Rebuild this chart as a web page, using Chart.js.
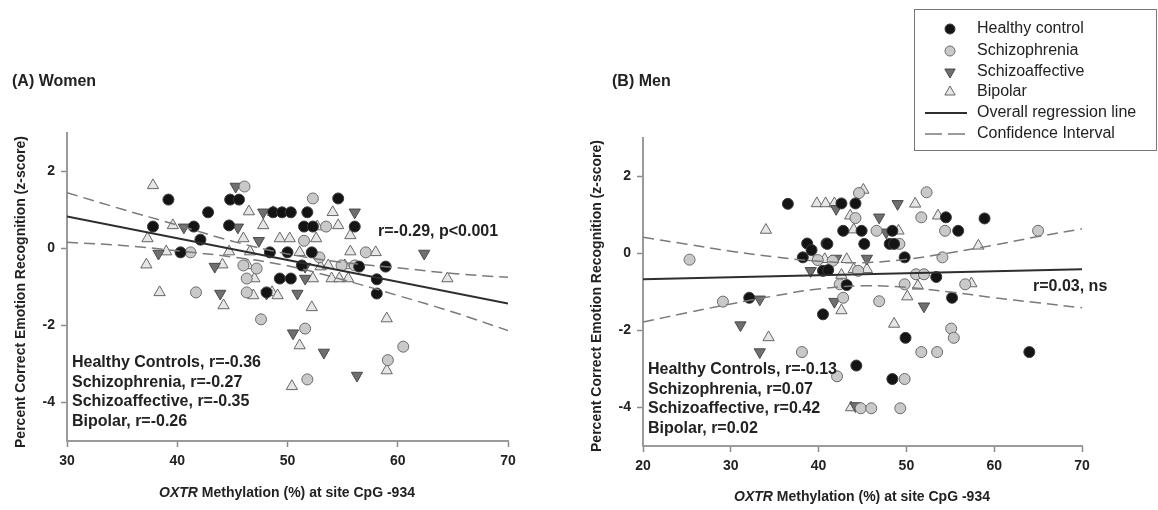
<!DOCTYPE html>
<html>
<head>
<meta charset="utf-8">
<script src="https://cdn.jsdelivr.net/npm/chart.js@4"></script>
<style>
  body { margin: 0; background: #fff; }
  #wrap { position: relative; width: 1158px; height: 510px; }
  canvas { position: absolute; top: 0; }
  #women { left: 0; }
  #men { left: 580px; }
</style>
</head>
<body>
<div id="wrap">
  <canvas id="women" width="580" height="510"></canvas>
  <canvas id="men" width="578" height="510"></canvas>
</div>
<script>
// tick values
const womenXTicks = [30, 40, 50, 60, 70];
const menXTicks = [20, 30, 40, 50, 60, 70];
const yTicks = [-4, -2, 0, 2];

// (A) Women, [methylation %, z-score]
const womenHC = [[39.2,1.27],[42.8,0.94],[37.8,0.57],[41.5,0.57],[44.7,0.6],[42.1,0.23],[40.3,-0.1],[44.8,1.27],[45.6,1.27],[48.7,0.94],[49.5,0.94],[50.3,0.94],[51.8,0.94],[54.6,1.3],[51.5,0.57],[52.3,0.57],[56.1,0.57],[48.4,-0.1],[50.0,-0.1],[52.2,-0.1],[51.3,-0.44],[49.3,-0.78],[50.3,-0.78],[48.1,-1.14],[56.5,-0.47],[58.9,-0.47],[58.1,-0.8],[58.1,-1.17]];
const womenSZ = [[46.1,1.61],[52.3,1.3],[41.2,-0.1],[46.0,-0.44],[47.2,-0.52],[46.3,-0.78],[41.7,-1.14],[46.3,-1.14],[47.6,-1.84],[53.5,0.57],[51.5,0.2],[52.9,-0.23],[54.9,-0.44],[56.1,-0.44],[57.1,-0.1],[51.6,-2.08],[60.5,-2.55],[59.1,-2.9],[51.8,-3.4]];
const womenSZA = [[45.3,1.61],[40.6,0.55],[45.5,0.55],[47.4,0.2],[38.3,-0.13],[43.4,-0.47],[43.9,-1.17],[48.1,-1.17],[50.9,-1.17],[47.8,0.94],[56.1,0.94],[62.4,-0.13],[51.6,-0.47],[51.6,-0.78],[50.5,-2.2],[53.3,-2.7],[56.3,-3.3]];
const womenBP = [[37.8,1.64],[46.5,0.96],[39.6,0.6],[37.3,0.26],[46.0,0.26],[39.0,-0.08],[44.7,-0.08],[46.6,-0.08],[37.2,-0.42],[44.1,-0.42],[46.4,-0.44],[47.0,-0.78],[38.4,-1.14],[44.2,-1.48],[46.9,-1.22],[48.6,-1.14],[49.1,-1.22],[48.7,0.94],[47.8,0.6],[49.3,0.26],[50.2,0.26],[52.6,0.26],[55.7,0.34],[55.7,-0.08],[52.7,0.57],[54.1,0.94],[54.6,0.6],[51.1,-0.1],[53.0,-0.47],[53.7,-0.44],[55.2,-0.44],[54.0,-0.78],[54.7,-0.78],[55.5,-0.78],[52.3,-0.78],[58.0,-0.1],[64.5,-0.78],[52.2,-1.53],[59.0,-1.82],[51.1,-2.52],[59.0,-3.17],[50.4,-3.58]];
const womenFit = [[30,0.83],[70,-1.43]];
const womenCiX = [30, 35, 40, 45, 50, 55, 60, 65, 70];
const womenCiUpper = [1.45, 1.02, 0.61, 0.19, -0.14, -0.36, -0.50, -0.65, -0.75];
const womenCiLower = [0.16, 0.08, -0.06, -0.22, -0.45, -0.81, -1.22, -1.65, -2.13];

// (B) Men
const menHC = [[36.5,1.29],[38.7,0.26],[40.9,0.26],[39.2,0.09],[38.2,-0.1],[40.5,-0.45],[40.5,-1.58],[42.6,1.3],[44.2,1.3],[54.5,0.94],[58.9,0.91],[42.8,0.59],[44.9,0.59],[48.4,0.59],[55.9,0.59],[41.0,0.25],[45.2,0.25],[48.1,0.25],[48.6,0.25],[49.8,-0.1],[41.1,-0.43],[53.4,-0.61],[43.2,-0.82],[55.2,-1.15],[32.1,-1.15],[49.9,-2.19],[64.0,-2.56],[44.3,-2.91],[48.4,-3.26]];
const menSZ = [[25.3,-0.16],[29.1,-1.25],[38.1,-2.56],[39.9,-0.17],[44.6,1.57],[52.3,1.59],[44.2,0.92],[51.7,0.94],[46.6,0.59],[49.2,0.25],[54.4,0.59],[65.0,0.59],[41.6,-0.19],[54.1,-0.1],[44.5,-0.45],[51.1,-0.54],[52.0,-0.54],[42.4,-0.8],[49.8,-0.8],[56.7,-0.8],[42.8,-1.15],[46.9,-1.24],[55.1,-1.95],[55.4,-2.19],[51.7,-2.56],[53.5,-2.56],[42.1,-3.19],[49.8,-3.26],[44.8,-4.02],[46.0,-4.02],[49.3,-4.02]];
const menSZA = [[33.3,-1.19],[31.1,-1.86],[33.3,-2.56],[39.1,-0.45],[42.0,1.16],[49.0,1.29],[46.9,0.94],[47.7,0.55],[42.0,-0.13],[45.5,-0.13],[52.0,-1.37],[41.8,-1.25],[44.2,-3.96]];
const menBP = [[34.3,-2.18],[34.0,0.61],[39.8,1.3],[40.8,1.3],[41.8,1.3],[45.1,1.65],[51.0,1.29],[43.6,0.98],[53.6,0.98],[44.0,0.62],[49.1,0.59],[58.2,0.2],[39.0,-0.1],[40.7,-0.15],[43.2,-0.15],[44.0,-0.41],[45.5,-0.41],[42.6,-0.56],[51.3,-0.84],[57.4,-0.78],[50.1,-1.12],[42.6,-1.48],[48.6,-1.83],[43.7,-4.0]];
const menFit = [[20,-0.67],[70,-0.41]];
const menCiX = [20, 25, 30, 35, 40, 45, 50, 55, 60, 65, 70];
const menCiUpper = [0.42, 0.24, 0.06, -0.09, -0.20, -0.24, -0.15, 0.02, 0.22, 0.44, 0.64];
const menCiLower = [-1.78, -1.54, -1.31, -1.10, -0.92, -0.84, -0.88, -1.0, -1.15, -1.28, -1.41];

const womenStats = ["Healthy Controls, r=-0.36", "Schizophrenia, r=-0.27", "Schizoaffective, r=-0.35", "Bipolar, r=-0.26"];
const menStats = ["Healthy Controls, r=-0.13", "Schizophrenia, r=0.07", "Schizoaffective, r=0.42", "Bipolar, r=0.02"];

const FONT = "'Liberation Sans', Arial, sans-serif";
const groups = {
    hc: { pointStyle: "circle", radius: 5.5, rotation: 0, bg: "#141414", border: "#3a3a3a" },
    sz: { pointStyle: "circle", radius: 5.5, rotation: 0, bg: "#c9c9c9", border: "#6a6a6a" },
    sza: { pointStyle: "triangle", radius: 6.5, rotation: 180, bg: "#6f6f6f", border: "#4a4a4a" },
    bp: { pointStyle: "triangle", radius: 6.5, rotation: 0, bg: "#e6e6e6", border: "#666" }
};

const toXY = (arr) => arr.map(p => ({ x: p[0], y: p[1] }));
const zip = (xs, ys) => xs.map((x, i) => ({ x: x, y: ys[i] }));

function pointSet(pts, g, order) {
    let s = groups[g];
    return {
        data: toXY(pts), showLine: false, order: order,
        pointStyle: s.pointStyle, pointRadius: s.radius, pointRotation: s.rotation,
        pointBackgroundColor: s.bg, pointBorderColor: s.border, pointBorderWidth: 1
    };
}
function lineSet(pts, dashed, order) {
    return {
        type: "line", data: pts, order: order, pointRadius: 0, fill: false,
        borderColor: dashed ? "#7a7a7a" : "#2e2e2e", borderWidth: dashed ? 1.5 : 2,
        borderDash: dashed ? [11, 6] : [], tension: 0.4
    };
}

function drawLegend(ctx) {
    const ox = -580;
    ctx.save();
    ctx.strokeStyle = "#777";
    ctx.lineWidth = 1;
    ctx.strokeRect(914.5 + ox, 9.5, 242, 141);
    const rows = [
        ["hc", "Healthy control", 29], ["sz", "Schizophrenia", 51],
        ["sza", "Schizoaffective", 72], ["bp", "Bipolar", 92]
    ];
    ctx.font = "16px " + FONT;
    ctx.textBaseline = "middle";
    for (let r of rows) {
        let g = groups[r[0]];
        ctx.fillStyle = g.bg;
        ctx.strokeStyle = g.border;
        ctx.lineWidth = 1;
        Chart.helpers.drawPoint(ctx, { pointStyle: g.pointStyle, radius: g.radius - 0.5, rotation: g.rotation, borderWidth: 1 }, 950 + ox, r[2]);
        ctx.fillStyle = "#222";
        ctx.fillText(r[1], 977 + ox, r[2]);
    }
    ctx.strokeStyle = "#2e2e2e";
    ctx.lineWidth = 2;
    ctx.beginPath(); ctx.moveTo(925 + ox, 113); ctx.lineTo(967 + ox, 113); ctx.stroke();
    ctx.strokeStyle = "#7a7a7a";
    ctx.lineWidth = 1.5;
    ctx.beginPath(); ctx.moveTo(925 + ox, 134); ctx.lineTo(942 + ox, 134);
    ctx.moveTo(948 + ox, 134); ctx.lineTo(965 + ox, 134); ctx.stroke();
    ctx.fillStyle = "#222";
    ctx.fillText("Overall regression line", 977 + ox, 113);
    ctx.fillText("Confidence Interval", 977 + ox, 134);
    ctx.restore();
}

// panel titles, axis titles, r values and the legend
const decor = {
    id: "decor",
    afterDraw(chart, args, o) {
        const ctx = chart.ctx;
        ctx.save();
        ctx.fillStyle = "#222";
        ctx.textBaseline = "middle";
        ctx.font = "bold 16px " + FONT;
        ctx.fillText(o.panel, o.panelX, 82);
        ctx.fillText(o.rText, o.rX, o.rY);
        o.stats.forEach((t, i) => ctx.fillText(t, o.statsX, o.statsY + i * 19.5));

        // y title
        ctx.save();
        ctx.translate(o.yTitleX, o.yTitleY);
        ctx.rotate(-Math.PI / 2);
        ctx.font = "bold 14px " + FONT;
        ctx.textAlign = "center";
        ctx.fillText("Percent Correct Emotion Recognition (z-score)", 0, 0);
        ctx.restore();

        // x title, OXTR in italics
        const a = "OXTR", b = " Methylation (%) at site CpG -934";
        ctx.font = "italic bold 14px " + FONT;
        const wa = ctx.measureText(a).width;
        ctx.font = "bold 14px " + FONT;
        const wb = ctx.measureText(b).width;
        let x0 = o.xTitleX - (wa + wb) / 2;
        ctx.font = "italic bold 14px " + FONT;
        ctx.fillText(a, x0, o.xTitleY);
        ctx.font = "bold 14px " + FONT;
        ctx.fillText(b, x0 + wa, o.xTitleY);
        ctx.restore();

        if (o.legend) drawLegend(ctx);
    }
};

function axes(xmin, xmax, xTicks, yWidth, xHeight) {
    const tickFont = { size: 14, weight: "bold", family: FONT };
    const grid = { drawOnChartArea: false, drawTicks: true, tickLength: 6, tickColor: "#8a8a8a", tickWidth: 1.5 };
    const border = { color: "#9a9a9a", width: 2 };
    return {
        x: {
            type: "linear", min: xmin, max: xmax,
            afterBuildTicks: (s) => { s.ticks = xTicks.map(v => ({ value: v })); },
            afterFit: (s) => { s.height = xHeight; },
            grid: grid, border: border,
            ticks: { font: tickFont, color: "#222", padding: 6, maxRotation: 0 }
        },
        y: {
            type: "linear", min: -5, max: 3,
            afterBuildTicks: (s) => { s.ticks = yTicks.map(v => ({ value: v })); },
            afterFit: (s) => { s.width = yWidth; },
            grid: grid, border: border,
            ticks: { font: tickFont, color: "#222", padding: 6 }
        }
    };
}

function makeChart(id, sets, fit, ciX, ciUp, ciLo, scales, padding, decorOpts) {
    return new Chart(document.getElementById(id), {
        type: "scatter",
        data: {
            datasets: [
                pointSet(sets[3], "bp", 10),
                pointSet(sets[2], "sza", 9),
                pointSet(sets[1], "sz", 8),
                pointSet(sets[0], "hc", 7),
                lineSet(zip(ciX, ciUp), true, 2),
                lineSet(zip(ciX, ciLo), true, 2),
                lineSet(toXY(fit), false, 1)
            ]
        },
        options: {
            responsive: false, animation: false, events: [],
            layout: { padding: padding },
            plugins: { legend: { display: false }, tooltip: { enabled: false }, decor: decorOpts },
            scales: scales
        },
        plugins: [decor]
    });
}

makeChart("women", [womenHC, womenSZ, womenSZA, womenBP], womenFit, womenCiX, womenCiUpper, womenCiLower,
    axes(30, 70, womenXTicks, 67, 69), { top: 133, right: 72, left: 0, bottom: 0 },
    { panel: "(A) Women", panelX: 12, rText: "r=-0.29, p<0.001", rX: 378, rY: 232,
      stats: womenStats, statsX: 72, statsY: 363, yTitleX: 21, yTitleY: 292,
      xTitleX: 287, xTitleY: 493, legend: false });

makeChart("men", [menHC, menSZ, menSZA, menBP], menFit, menCiX, menCiUpper, menCiLower,
    axes(20, 70, menXTicks, 63, 64), { top: 138, right: 76, left: 0, bottom: 0 },
    { panel: "(B) Men", panelX: 32, rText: "r=0.03, ns", rX: 453, rY: 287,
      stats: menStats, statsX: 68, statsY: 370, yTitleX: 17, yTitleY: 296,
      xTitleX: 282, xTitleY: 497, legend: true });
</script>
</body>
</html>
